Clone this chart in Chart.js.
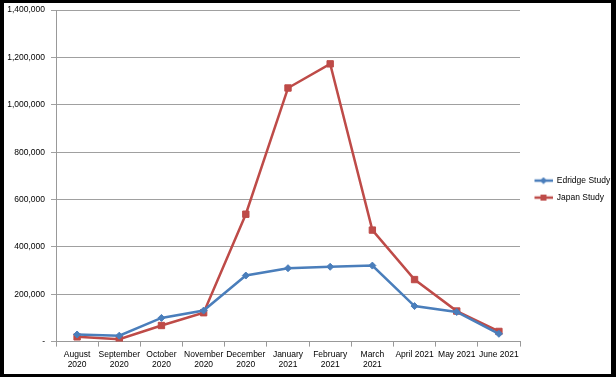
<!DOCTYPE html>
<html lang="en">
<head>
    <meta charset="UTF-8">
    <title>Edridge vs Japan Study</title>
    <script src="https://cdn.jsdelivr.net/npm/chart.js"></script>
    <style>
        body { margin: 0; background: #000; width: 616px; height: 377px; overflow: hidden; }
        #marco { position: absolute; left: 4px; top: 3px; width: 607px; height: 371px; background: #fff; overflow: hidden; }
        #lienzo { position: absolute; left: 0; top: -4px; width: 607px; height: 374px; }
    </style>
</head>
<body>
    <div id="marco"><div id="lienzo"><canvas id="miGrafica"></canvas></div></div>

    <script>
        const meses = [
            ['August', '2020'], ['September', '2020'], ['October', '2020'], ['November', '2020'],
            ['December', '2020'], ['January', '2021'], ['February', '2021'], ['March', '2021'],
            'April 2021', 'May 2021', 'June 2021'
        ];
        const edridge = [30000, 25000, 100000, 131000, 279000, 310000, 316000, 321000, 150000, 125000, 33000];
        const japan = [20000, 10000, 68000, 122000, 538000, 1071000, 1173000, 471000, 262000, 129000, 43000];
        const yMax = 1400000;
        const yStep = 200000;

        const azul = '#4A7EBB';
        const rojo = '#BE4B48';
        const fuente = '"Liberation Sans", Arial, sans-serif';
        const tam = 8.5;

        // icono de leyenda: linea con marcador (con margen a la izquierda)
        function iconoLeyenda(color, forma) {
            const c = document.createElement('canvas');
            c.width = 24; c.height = 8;
            const g = c.getContext('2d');
            g.strokeStyle = color; g.fillStyle = color; g.lineWidth = 2.5;
            g.beginPath(); g.moveTo(6, 4); g.lineTo(24, 4); g.stroke();
            if (forma === 'rect') {
                g.fillRect(12, 1, 6, 6);
            } else {
                g.beginPath(); g.moveTo(15, 0.5); g.lineTo(18.5, 4); g.lineTo(15, 7.5); g.lineTo(11.5, 4); g.closePath(); g.fill();
            }
            return c;
        }
        const iconos = [iconoLeyenda(azul, 'rectRot'), iconoLeyenda(rojo, 'rect')];

        const ctx = document.getElementById('miGrafica').getContext('2d');
        new Chart(ctx, {
            type: 'line',
            data: {
                labels: meses,
                datasets: [{
                    label: 'Edridge Study',
                    data: edridge,
                    borderColor: azul,
                    backgroundColor: azul,
                    borderWidth: 2.5,
                    pointStyle: 'rectRot',
                    pointRadius: 3.5,
                    pointBorderWidth: 1,
                    tension: 0
                }, {
                    label: 'Japan Study',
                    data: japan,
                    borderColor: rojo,
                    backgroundColor: rojo,
                    borderWidth: 2.5,
                    pointStyle: 'rect',
                    pointRadius: 4.5,
                    pointBorderWidth: 1,
                    tension: 0
                }]
            },
            options: {
                responsive: true,
                maintainAspectRatio: false,
                animation: false,
                layout: { padding: 0 },
                plugins: {
                    legend: {
                        position: 'right',
                        maxWidth: 91,
                        // titulo vacio solo para bajar un poco la leyenda
                        title: { display: true, text: ' ', font: { size: 1 }, padding: { top: 0, bottom: 5 } },
                        labels: {
                            font: { family: fuente, size: tam },
                            color: '#000',
                            usePointStyle: true,
                            pointStyleWidth: 24,
                            boxHeight: 8,
                            padding: 8.5,
                            generateLabels: (chart) => {
                                const base = Chart.defaults.plugins.legend.labels.generateLabels(chart);
                                base.forEach((l, i) => { l.pointStyle = iconos[i]; });
                                return base;
                            }
                        }
                    },
                    tooltip: { enabled: false }
                },
                scales: {
                    x: {
                        offset: true,
                        grid: {
                            offset: true,
                            drawOnChartArea: false,
                            drawTicks: true,
                            tickLength: 5,
                            color: '#999'
                        },
                        border: { color: '#999' },
                        ticks: {
                            font: { family: fuente, size: tam },
                            color: '#000',
                            maxRotation: 0,
                            autoSkip: false,
                            padding: 3
                        }
                    },
                    y: {
                        min: 0,
                        max: yMax,
                        afterFit: (s) => { s.width = 52; },
                        grid: { color: '#a0a0a0', tickLength: 5 },
                        border: { color: '#999' },
                        ticks: {
                            stepSize: yStep,
                            padding: 6,
                            font: { family: fuente, size: tam },
                            color: '#000',
                            callback: (v) => v === 0 ? '-' : v.toLocaleString('en-US')
                        }
                    }
                }
            }
        });
    </script>
</body>
</html>
